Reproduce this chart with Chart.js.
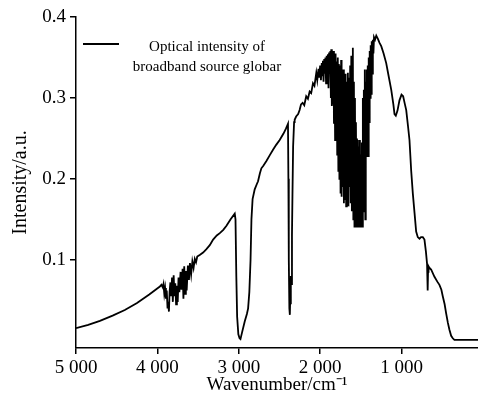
<!DOCTYPE html>
<html lang="en">
<head>
    <meta charset="UTF-8">
    <title>Globar spectrum</title>
    <style>
        body {
            margin: 0;
            background: #fff;
        }
        #wrap {
            width: 478px;
            height: 395px;
        }
    </style>
</head>
<body>
    <div id="wrap">
        <canvas id="spectrum" width="478" height="395"></canvas>
    </div>

    <script src="https://cdn.jsdelivr.net/npm/chart.js"></script>
    <script>
        const seriesLabel = ['Optical intensity of', 'broadband source globar'];
        const xTicks = [5000, 4000, 3000, 2000, 1000];
        const yTicks = [0.1, 0.2, 0.3, 0.4];

        // high wavenumber first
        const wavenumber = [
            5000, 4850, 4706, 4550, 4400, 4250, 4100, 4010, 3969, 3950, 3935,
            3925, 3915, 3905, 3895, 3885, 3875, 3867, 3858, 3850, 3840,
            3830, 3820, 3810, 3800, 3790, 3780, 3770, 3760, 3750, 3740,
            3730, 3715, 3705, 3690, 3680, 3670, 3660, 3650, 3640, 3625,
            3612, 3600, 3585, 3570, 3555, 3540, 3525, 3510, 3480, 3438,
            3400, 3356, 3315, 3270, 3233, 3190, 3151, 3100, 3049, 3040,
            3030, 3020, 3005, 2990, 2979, 2960, 2926, 2900, 2885, 2870,
            2855, 2844, 2830, 2804, 2780, 2763, 2740, 2722, 2700, 2680,
            2660, 2620, 2579, 2540, 2497, 2450, 2420, 2395, 2390, 2385,
            2378, 2372, 2366, 2362, 2358, 2352, 2346, 2340, 2332, 2320,
            2313, 2295, 2270, 2252, 2235, 2215, 2195, 2171, 2150, 2129,
            2110, 2088, 2070, 2047, 2035, 2020, 2010, 2000, 1990, 1980,
            1972, 1966, 1958, 1950, 1942, 1935, 1927, 1920, 1912, 1904,
            1897, 1890, 1882, 1875, 1868, 1863, 1856, 1850, 1843, 1836,
            1830, 1823, 1816, 1810, 1802, 1796, 1790, 1783, 1776, 1770,
            1763, 1756, 1749, 1742, 1736, 1729, 1722, 1715, 1708, 1701,
            1694, 1687, 1680, 1673, 1666, 1659, 1652, 1645, 1638, 1631,
            1624, 1617, 1610, 1603, 1598, 1592, 1585, 1578, 1572, 1566,
            1560, 1553, 1547, 1541, 1535, 1529, 1523, 1517, 1511, 1505,
            1499, 1493, 1487, 1481, 1475, 1469, 1463, 1457, 1451, 1445,
            1439, 1433, 1427, 1421, 1415, 1409, 1403, 1397, 1391, 1385,
            1379, 1372, 1366, 1360, 1352, 1345, 1338, 1325, 1310, 1290,
            1270, 1249, 1220, 1188, 1160, 1126, 1100, 1086, 1070, 1050,
            1025, 1000, 980, 960, 942, 920, 902, 881, 861, 840,
            820, 800, 779, 760, 738, 718, 700, 686, 680, 677,
            674, 668, 656, 636, 595, 560, 534, 510, 493, 470,
            452, 430, 411, 390, 370, 350, 329, 60
        ];
        const intensity = [
            0.0156, 0.0195, 0.0245, 0.031, 0.038, 0.0465, 0.057, 0.064, 0.067, 0.069, 0.066,
            0.070, 0.058, 0.065, 0.052, 0.062, 0.040, 0.048, 0.036, 0.060, 0.072,
            0.055, 0.078, 0.048, 0.081, 0.055, 0.071, 0.045, 0.068, 0.048, 0.078,
            0.060, 0.085, 0.063, 0.089, 0.052, 0.092, 0.058, 0.086, 0.062, 0.093,
            0.075, 0.096, 0.082, 0.098, 0.090, 0.101, 0.097, 0.104, 0.106, 0.109,
            0.113, 0.118, 0.125, 0.130, 0.133, 0.137, 0.142, 0.150, 0.157, 0.150,
            0.080, 0.030, 0.008, 0.003, 0.002, 0.010, 0.024, 0.033, 0.040, 0.060,
            0.100, 0.150, 0.175, 0.187, 0.193, 0.197, 0.207, 0.213, 0.216, 0.219,
            0.222, 0.229, 0.236, 0.242, 0.248, 0.256, 0.262, 0.268, 0.200, 0.100,
            0.040, 0.032, 0.060, 0.045, 0.080, 0.070, 0.130, 0.180, 0.240, 0.270,
            0.273, 0.277, 0.280, 0.285, 0.292, 0.294, 0.291, 0.302, 0.299, 0.308,
            0.306, 0.318, 0.315, 0.331, 0.322, 0.336, 0.325, 0.340, 0.322, 0.343,
            0.328, 0.346, 0.320, 0.348, 0.330, 0.350, 0.318, 0.352, 0.335, 0.354,
            0.312, 0.356, 0.330, 0.358, 0.300, 0.360, 0.290, 0.357, 0.292, 0.358,
            0.268, 0.352, 0.248, 0.355, 0.250, 0.345, 0.230, 0.350, 0.210, 0.342,
            0.200, 0.340, 0.182, 0.347, 0.178, 0.330, 0.190, 0.335, 0.170, 0.325,
            0.175, 0.330, 0.166, 0.320, 0.180, 0.331, 0.166, 0.325, 0.190, 0.340,
            0.170, 0.352, 0.160, 0.340, 0.362, 0.150, 0.320, 0.141, 0.300, 0.141,
            0.270, 0.141, 0.250, 0.145, 0.248, 0.141, 0.240, 0.150, 0.248, 0.141,
            0.230, 0.145, 0.245, 0.141, 0.300, 0.160, 0.310, 0.200, 0.335, 0.150,
            0.320, 0.228, 0.335, 0.235, 0.340, 0.228, 0.350, 0.270, 0.358, 0.300,
            0.365, 0.305, 0.370, 0.330, 0.372, 0.355, 0.375, 0.372, 0.377, 0.373,
            0.368, 0.364, 0.355, 0.343, 0.328, 0.310, 0.292, 0.280, 0.278, 0.284,
            0.297, 0.304, 0.302, 0.293, 0.285, 0.265, 0.248, 0.210, 0.182, 0.158,
            0.135, 0.128, 0.126, 0.128, 0.128, 0.125, 0.110, 0.095, 0.070, 0.062,
            0.085, 0.092, 0.090, 0.088, 0.079, 0.073, 0.069, 0.063, 0.055, 0.045,
            0.034, 0.022, 0.0135, 0.006, 0.003, 0.001, 0.001, 0.001
        ];

        const serif = 'Liberation Serif, Times New Roman, serif';

        // legend drawn by hand: short line + two centred text lines
        const legendBox = {
            id: 'legendBox',
            afterDatasetsDraw(chart) {
                const ctx = chart.ctx;
                ctx.save();
                ctx.strokeStyle = '#000';
                ctx.lineWidth = 1.8;
                ctx.beginPath();
                ctx.moveTo(83, 44);
                ctx.lineTo(119, 44);
                ctx.stroke();
                ctx.fillStyle = '#000';
                ctx.font = '15px ' + serif;
                ctx.textAlign = 'center';
                ctx.textBaseline = 'alphabetic';
                ctx.fillText(seriesLabel[0], 207, 50.5);
                ctx.fillText(seriesLabel[1], 207, 70.5);
                ctx.restore();
            }
        };

        function thousands(v) {
            if (v < 1000) return String(v);
            return Math.floor(v / 1000) + ' ' + String(v % 1000).padStart(3, '0');
        }

        new Chart(document.getElementById('spectrum'), {
            type: 'line',
            data: {
                datasets: [{
                    label: seriesLabel.join(' '),
                    data: wavenumber.map((w, i) => ({ x: w, y: intensity[i] })),
                    borderColor: '#000',
                    borderWidth: 1.8,
                    pointRadius: 0,
                    tension: 0,
                    fill: false
                }]
            },
            options: {
                responsive: false,
                animation: false,
                layout: { padding: { top: 17, right: 0, left: 0, bottom: 0 } },
                plugins: {
                    legend: { display: false },
                    tooltip: { enabled: false }
                },
                scales: {
                    x: {
                        type: 'linear',
                        reverse: true,
                        min: 60,
                        max: 5000,
                        afterBuildTicks: s => { s.ticks = xTicks.map(v => ({ value: v })); },
                        afterFit: s => { s.height = 47; },
                        grid: { drawOnChartArea: false, drawTicks: true, tickLength: 6, color: '#000', lineWidth: 1.5 },
                        border: { display: true, color: '#000', width: 1.5 },
                        ticks: {
                            color: '#000',
                            padding: 3,
                            maxRotation: 0,
                            font: { family: serif, size: 19 },
                            callback: v => thousands(v)
                        },
                        title: {
                            display: true,
                            text: 'Wavenumber/cm\u207B\u00B9',
                            color: '#000',
                            padding: { top: 0, bottom: 0 },
                            font: { family: serif, size: 19, lineHeight: 1 }
                        }
                    },
                    y: {
                        min: -0.009,
                        max: 0.4,
                        afterBuildTicks: s => { s.ticks = yTicks.map(v => ({ value: v })); },
                        afterFit: s => { s.width = 76; },
                        grid: { drawOnChartArea: false, drawTicks: true, tickLength: 6, color: '#000', lineWidth: 1.5 },
                        border: { display: true, color: '#000', width: 1.5 },
                        ticks: {
                            color: '#000',
                            padding: 4,
                            font: { family: serif, size: 19 },
                            callback: v => v.toFixed(1)
                        },
                        title: {
                            display: true,
                            text: 'Intensity/a.u.',
                            color: '#000',
                            padding: { top: 11, bottom: 0 },
                            font: { family: serif, size: 20, lineHeight: 1 }
                        }
                    }
                }
            },
            plugins: [legendBox]
        });
    </script>
</body>
</html>
